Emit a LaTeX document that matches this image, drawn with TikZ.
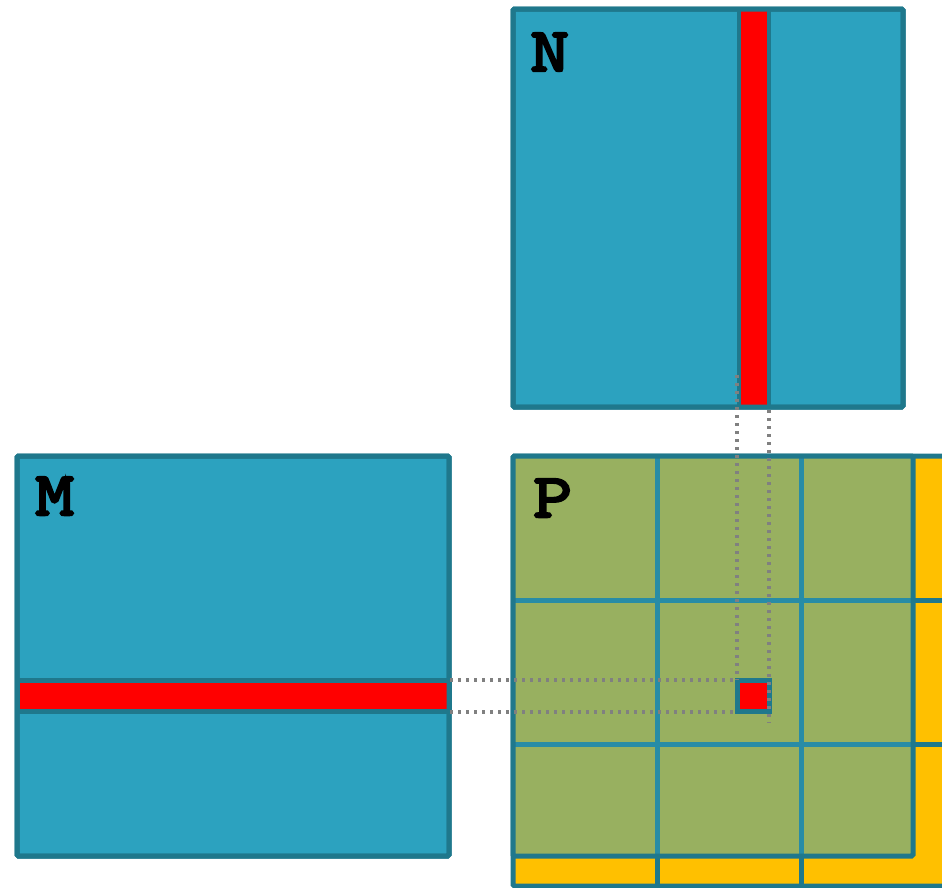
\documentclass[tikz,border=0pt]{standalone}
\usepackage{fontspec}
\newfontfamily\lblfont[FakeBold=4,FakeStretch=1.22]{Latin Modern Mono}
\definecolor{mblue}{RGB}{44,162,191}
\definecolor{mborder}{RGB}{31,120,140}
\definecolor{mgrid}{RGB}{40,140,166}
\definecolor{mgreen}{RGB}{152,176,96}
\definecolor{myellow}{RGB}{255,192,0}
\definecolor{dotgrey}{RGB}{128,128,128}
\begin{document}
\begin{tikzpicture}[x=1pt,y=-1pt,
  mat/.style={draw=mborder, line width=5pt, fill=mblue, rounded corners=1.5pt,
              inner sep=0pt, outer sep=0pt, anchor=north west},
  strip/.style={draw=mborder, fill=red},
  gridline/.style={line width=5pt},
  dotline/.style={draw=dotgrey, line width=3.5pt, dash pattern=on 3pt off 5pt},
  lbl/.style={anchor=base west, inner sep=0pt,
              font=\lblfont\fontsize{62}{62}\selectfont}]
\clip (0,0) rectangle (942,887);

% matrix N with its highlighted column
\node[mat, minimum width=390pt, minimum height=398pt] (matN) at (513,9) {};
\draw[strip, line width=4pt] (738.5,9) rectangle (769,407);
\draw[draw=mborder, line width=5pt, rounded corners=1.5pt] (513,9) rectangle (903,407);
\node[lbl] (labN) at (530,71) {N};

% matrix M with its highlighted row
\node[mat, minimum width=432pt, minimum height=400pt] (matM) at (17,456) {};
\draw[strip, line width=5pt] (17,680.5) rectangle (449,711.5);
\draw[draw=mborder, line width=5pt, rounded corners=1.5pt] (17,456) rectangle (449,856);
\node[lbl] (labM) at (35,515) {M};

% matrix P: padded tiles (yellow) around the result block (green)
\node[mat, fill=myellow, minimum width=460pt, minimum height=430pt] (matP) at (513,456) {};
\draw[gridline, mborder] (657,456) -- (657,890) (801,456) -- (801,890)
                         (513,600) -- (980,600) (513,744) -- (980,744);
\fill[mgreen] (513,456) rectangle (913,856);
\draw[gridline, mgrid] (657,456) -- (657,856) (801,456) -- (801,856)
                       (513,600) -- (913,600) (513,744) -- (913,744);
\draw[draw=mborder, line width=5pt, rounded corners=1.5pt] (513,456) rectangle (913,856);
\node[lbl] (labP) at (533,517) {P};

% the single output element
\node[strip, line width=5pt, inner sep=0pt, outer sep=0pt, minimum width=32pt,
      minimum height=31pt, anchor=north west] (elem) at (737.5,680.5) {};

% projection guides
\coordinate (rowA) at (450,680);
\coordinate (rowB) at (450,712);
\coordinate (colA) at (737,375);
\coordinate (colB) at (769,410);
\coordinate (endA) at (737,680);
\coordinate (endB) at (737,712);
\coordinate (endC) at (769,723);
\draw[dotline] (rowA) -- (endA);
\draw[dotline] (rowB) -- (endB);
\draw[dotline] (colA) -- (endA);
\draw[dotline] (colB) -- (endC);
\end{tikzpicture}
\end{document}
